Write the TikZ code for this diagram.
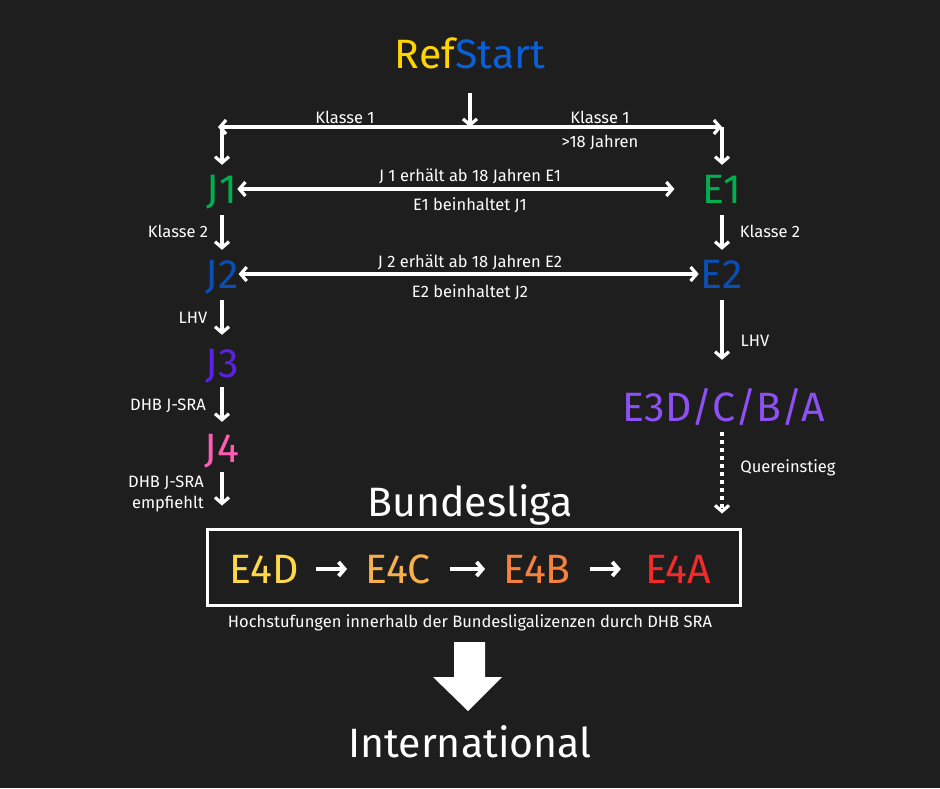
\documentclass[tikz,border=0pt]{standalone}
\usepackage{fontspec}
\setmainfont{Fira Sans}
\usetikzlibrary{arrows.meta}
\definecolor{bg}{HTML}{1E1E1E}
\definecolor{cref}{HTML}{FFD400}
\definecolor{cstart}{HTML}{0A5FD6}
\definecolor{cgreen}{HTML}{00B050}
\definecolor{cblue}{HTML}{0A4FB5}
\definecolor{cjthree}{HTML}{5A22E6}
\definecolor{cjfour}{HTML}{FF5CB5}
\definecolor{cethree}{HTML}{8C50F5}
\definecolor{ced}{HTML}{FFD84A}
\definecolor{cec}{HTML}{F7B14C}
\definecolor{ceb}{HTML}{F5813D}
\definecolor{cea}{HTML}{F22A2A}
\tikzset{
  big/.style={font=\fontsize{41}{49}\selectfont, inner sep=0pt, text height=30pt, text depth=2pt, anchor=base},
  lbl/.style={font=\fontsize{16.5}{19}\selectfont, text=white, inner sep=0pt, anchor=base},
  conn/.style={draw=white, line width=3.2pt, ->},
  bconn/.style={draw=white, line width=3.2pt, <->},
  dotconn/.style={conn, dash pattern=on 3.5pt off 4.5pt},
  rowconn/.style={conn, line width=3.8pt},
}
\begin{document}
\begin{tikzpicture}[x=1pt,y=-1pt, >={Straight Barb[length=6pt,width=14pt]}]
\fill[bg] (0,0) rectangle (940,788);
% top
\node[big] (ref) at (470,68) {\textcolor{cref}{Ref}\textcolor{cstart}{Start}};
\coordinate (hl) at (218,127);
\coordinate (hr) at (722,127);
\draw[conn, shorten <=23pt] (ref) -- (ref |- hl);
\draw[bconn] (hl) -- (hr);
\node[lbl] (k1l) at (345,123) {Klasse 1};
\node[lbl] (k1r) at (600,123) {Klasse 1};
\node[lbl] (k18) at (600,147) {>18 Jahren};
% J1 / E1
\node[big, text=cgreen] (J1) at (222,203) {J1};
\node[big, text=cgreen] (E1) at (722,203) {E1};
\draw[conn, shorten >=8pt] (J1 |- hl) -- (J1);
\draw[conn, shorten >=8pt] (hr) -- (E1);
\draw[bconn, shorten <=0pt, shorten >=28pt] (J1) -- (E1);
\node[lbl] (t1) at (470,181) {J 1 erhält ab 18 Jahren E1};
\node[lbl] (t2) at (470,210) {E1 beinhaltet J1};
% J2 / E2
\node[lbl] (k2l) at (178,237) {Klasse 2};
\node[lbl] (k2r) at (770,237) {Klasse 2};
\node[big, text=cblue] (J2) at (222,288) {J2};
\node[big, text=cblue] (E2) at (722,288) {E2};
\draw[conn, shorten <=10pt, shorten >=8pt] (J1) -- (J2);
\draw[conn, shorten <=10pt, shorten >=8pt] (E1) -- (E2);
\draw[bconn, shorten <=0pt, shorten >=2pt] (J2) -- (E2);
\node[lbl] (t3) at (470,267) {J 2 erhält ab 18 Jahren E2};
\node[lbl] (t4) at (470,297) {E2 beinhaltet J2};
% J3 / J4
\node[lbl] (lhvl) at (193,323) {LHV};
\node[big, text=cjthree] (J3) at (222,377) {J3};
\draw[conn, shorten <=10pt, shorten >=12pt] (J2) -- (J3);
\node[lbl] (dhb1) at (168,410) {DHB J-SRA};
\node[big, text=cjfour] (J4) at (222,462) {J4};
\draw[conn, shorten <=8pt, shorten >=10pt] (J3) -- (J4);
\node[lbl] (dhb2) at (166,487) {DHB J-SRA};
\node[lbl] (empf) at (168,508) {empfiehlt};
% box
\node[draw=white, line width=3pt, minimum width=533pt, minimum height=76pt, inner sep=0pt] (box) at (473.5,567) {};
\draw[conn, shorten <=8pt, shorten >=22pt] (J4) -- (J4 |- box.north);
% E3
\node[lbl] (lhvr) at (755,346) {LHV};
\node[big, text=cethree] (E3) at (724,421) {E3D/C/B/A};
\draw[conn, shorten <=10pt, shorten >=31pt] (E2) -- (E2 |- E3.north);
\draw[dotconn, shorten <=9pt, shorten >=14pt] (E3.south -| E2) -- (box.north -| E2);
\node[lbl] (quer) at (788,472) {Quereinstieg};
% Bundesliga
\node[big, text=white] (bl) at (470,516) {Bundesliga};
\node[big, text=ced] (e4d) at (264,583) {E4D};
\node[big, text=cec] (e4c) at (398,583) {E4C};
\node[big, text=ceb] (e4b) at (537,583) {E4B};
\node[big, text=cea] (e4a) at (678,583) {E4A};
\draw[rowconn, shorten <=17pt, shorten >=18pt] (e4d) -- (e4c);
\draw[rowconn, shorten <=19pt, shorten >=18pt] (e4c) -- (e4b);
\draw[rowconn, shorten <=19pt, shorten >=24pt] (e4b) -- (e4a);
\node[lbl] (hoch) at (470,627) {Hochstufungen innerhalb der Bundesligalizenzen durch DHB SRA};
% big arrow
\fill[white] (454,642) -- (485,642) -- (485,677) -- (502,677) -- (468,711) -- (433,677) -- (454,677) -- cycle;
\node[big, text=white] (intl) at (470,757) {International};
\end{tikzpicture}
\end{document}
